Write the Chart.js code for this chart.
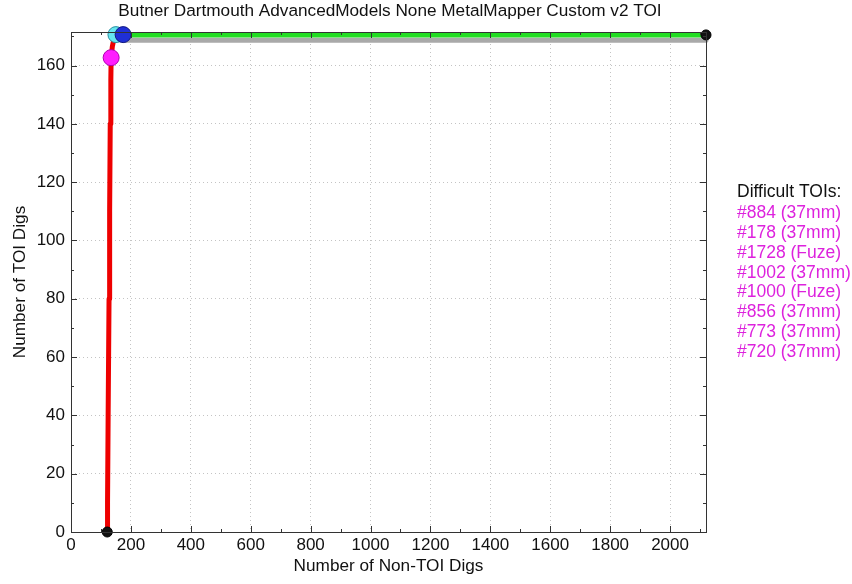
<!DOCTYPE html>
<html>
<head>
<meta charset="utf-8">
<script src="https://cdn.jsdelivr.net/npm/chart.js@4.4.0/dist/chart.umd.min.js"></script>
<style>
html, body { margin: 0; padding: 0; background: #fff; }
</style>
</head>
<body>
<canvas id="roc" width="852" height="584"></canvas>
<script>
const chartTitle = 'Butner Dartmouth AdvancedModels None MetalMapper Custom v2 TOI';
const xTitle = 'Number of Non-TOI Digs';
const yTitle = 'Number of TOI Digs';

const xTicks = [0, 200, 400, 600, 800, 1000, 1200, 1400, 1600, 1800, 2000];
const yTicks = [0, 20, 40, 60, 80, 100, 120, 140, 160];
const xMax = 2120;
const yMax = 171.5;

// red curve: dig order up to the last TOI
const redNonToi = [121, 122, 124, 127, 129, 131, 133, 134, 138, 143, 150];
const redToi = [0, 10, 40, 80, 110, 140, 155, 162.7, 166.5, 169, 170.5];

// green: rest of the list
const greenNonToi = [174, 2120];
const greenToi = [170.5, 170.5];

// gray band under green
const grayNonToi = [178, 2120];
const grayToi = [168.7, 168.7];

// markers
const startPoint = [121, 0];
const endPoint = [2120, 170.5];
const pinkPoint = [134, 162.7];
const cyanPoint = [150, 170.6];
const bluePoint = [174, 170.6];

const difficultTitle = 'Difficult TOIs:';
const difficultTois = ['#884 (37mm)', '#178 (37mm)', '#1728 (Fuze)', '#1002 (37mm)',
    '#1000 (Fuze)', '#856 (37mm)', '#773 (37mm)', '#720 (37mm)'];

const FONT = '"Liberation Sans", Arial, sans-serif';

function pts(xs, ys) {
    return xs.map((x, i) => ({ x: x, y: ys[i] }));
}

function marker(p, fill, stroke, r, order) {
    return {
        data: [{ x: p[0], y: p[1] }],
        showLine: false,
        pointRadius: r,
        pointBackgroundColor: fill,
        pointBorderColor: stroke,
        pointBorderWidth: 1,
        order: order
    };
}

function line(xs, ys, color, order) {
    return {
        data: pts(xs, ys),
        showLine: true,
        borderColor: color,
        borderWidth: 5,
        borderJoinStyle: 'round',
        borderCapStyle: 'round',
        pointRadius: 0,
        order: order
    };
}

const extras = {
    id: 'extras',
    beforeDraw(chart) {
        const ctx = chart.ctx;
        ctx.save();
        ctx.fillStyle = '#fff';
        ctx.fillRect(0, 0, chart.width, chart.height);
        ctx.restore();
    },
    afterDraw(chart) {
        const ctx = chart.ctx;
        const a = chart.chartArea;
        const sx = chart.scales.x, sy = chart.scales.y;
        ctx.save();
        // box
        ctx.strokeStyle = '#333';
        ctx.lineWidth = 1;
        ctx.strokeRect(a.left + 0.5, a.top + 0.5, a.right - a.left, a.bottom - a.top);
        // inward ticks
        ctx.beginPath();
        for (let v = 0; v <= xMax; v += 100) {
            const px = Math.round(sx.getPixelForValue(v)) + 0.5;
            const len = v % 200 === 0 ? 6 : 3;
            ctx.moveTo(px, a.bottom); ctx.lineTo(px, a.bottom - len);
            ctx.moveTo(px, a.top); ctx.lineTo(px, a.top + len);
        }
        for (let v = 0; v <= yMax; v += 10) {
            const py = Math.round(sy.getPixelForValue(v)) + 0.5;
            const len = v % 20 === 0 ? 6 : 3;
            ctx.moveTo(a.left, py); ctx.lineTo(a.left + len, py);
            ctx.moveTo(a.right, py); ctx.lineTo(a.right - len, py);
        }
        ctx.stroke();
        // title
        ctx.fillStyle = '#111';
        ctx.font = '17.2px ' + FONT;
        ctx.textAlign = 'center';
        ctx.textBaseline = 'middle';
        ctx.fillText(chartTitle, 390, 11);
        // difficult TOIs list
        ctx.font = '17.5px ' + FONT;
        ctx.textAlign = 'left';
        ctx.fillText(difficultTitle, 737, 192);
        ctx.fillStyle = '#dd22dd';
        difficultTois.forEach((t, i) => ctx.fillText(t, 737, 213 + i * 19.9));
        ctx.restore();
    }
};

new Chart(document.getElementById('roc'), {
    type: 'scatter',
    data: {
        datasets: [
            marker(startPoint, '#111', '#000', 5, 0),
            marker(endPoint, '#111', '#000', 5, 0),
            marker(bluePoint, '#1f2fd6', '#101880', 8, 1),
            marker(cyanPoint, '#66e6f0', '#2a8fa0', 8, 2),
            marker(pinkPoint, '#ff1eff', '#b000b0', 8, 1),
            line(redNonToi, redToi, '#ee0000', 3),
            line(greenNonToi, greenToi, '#22dd22', 4),
            line(grayNonToi, grayToi, '#a9a9a9', 5)
        ]
    },
    options: {
        responsive: false,
        animation: false,
        events: [],
        clip: false,
        layout: { padding: { top: 32, right: 146, left: 0, bottom: 0 } },
        plugins: {
            legend: { display: false },
            tooltip: { enabled: false }
        },
        scales: {
            x: {
                type: 'linear',
                min: 0,
                max: xMax,
                afterBuildTicks: s => { s.ticks = xTicks.map(v => ({ value: v })); },
                afterFit: s => { s.height = 52; },
                ticks: { color: '#111', font: { family: FONT, size: 17 }, padding: 3, maxRotation: 0, callback: v => String(v) },
                grid: { color: '#c4c4c4', drawTicks: false },
                border: { display: false, dash: [1, 3] },
                title: { display: true, text: xTitle, color: '#111', font: { family: FONT, size: 17.2 }, padding: { top: 0, bottom: 7 } }
            },
            y: {
                type: 'linear',
                min: 0,
                max: yMax,
                afterBuildTicks: s => { s.ticks = yTicks.map(v => ({ value: v })); },
                afterFit: s => { s.width = 71; },
                ticks: { color: '#111', font: { family: FONT, size: 17 }, padding: 6, callback: v => String(v) },
                grid: { color: '#c4c4c4', drawTicks: false },
                border: { display: false, dash: [1, 3] },
                title: { display: true, text: yTitle, color: '#111', font: { family: FONT, size: 17.2 }, padding: { top: 10, bottom: 0 } }
            }
        }
    },
    plugins: [extras]
});
</script>
</body>
</html>
